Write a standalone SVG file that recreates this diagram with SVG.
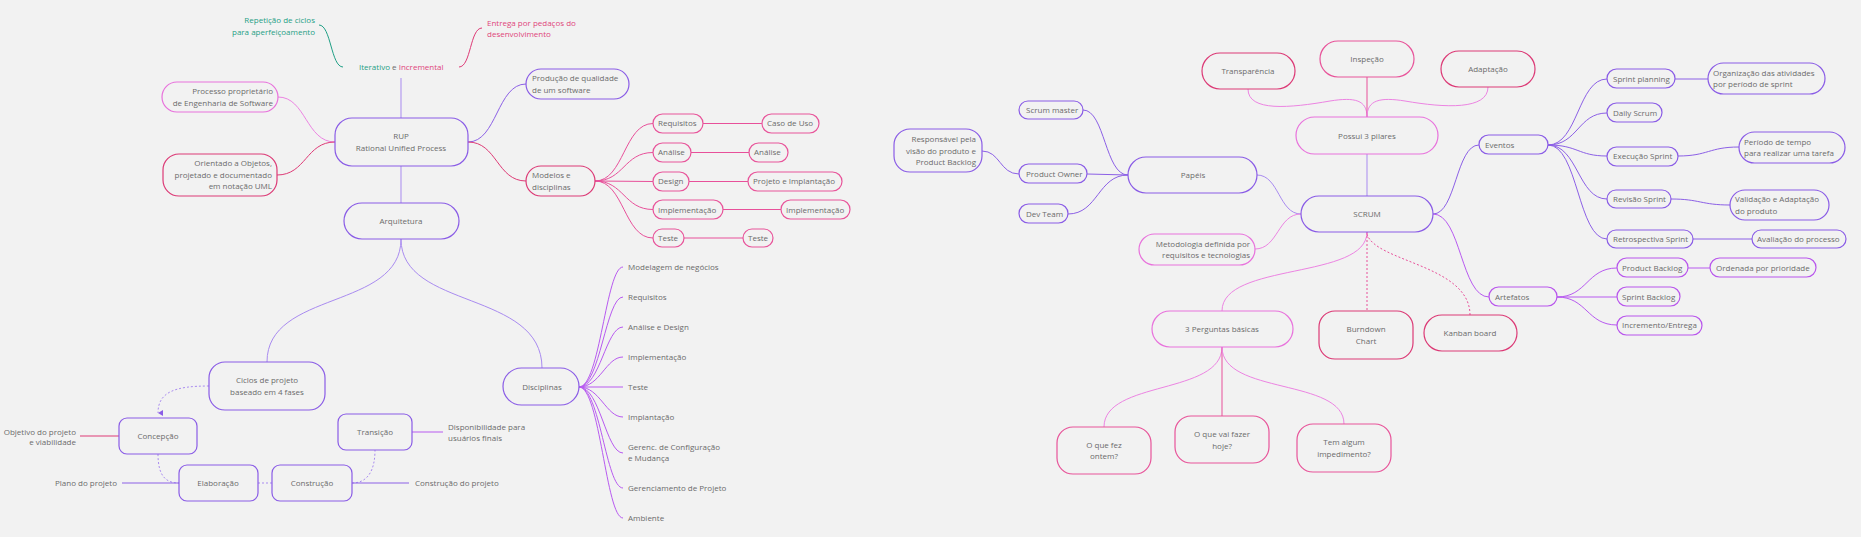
<svg xmlns="http://www.w3.org/2000/svg" width="1861" height="537" viewBox="0 0 1861 537">
<defs>
<style>
.t{font-family:"Open Sans","Liberation Sans",sans-serif;font-size:8px;fill:#6b6b6b}
.m{text-anchor:middle}
.e{text-anchor:end}
rect{fill:#f2f2f2;stroke-width:1.2}
.P{stroke:#8a5ce6}
.V{stroke:#b855ec}
.M{stroke:#e872dc}
.K{stroke:#e8549a}
.R{stroke:#dc3a76}
#connectors path{fill:none;stroke-width:1}
.cP{stroke:#8c60e6}
.cL{stroke:#a98bf0}
.cV{stroke:#b85af0}
.cM{stroke:#ec84e2}
.cK{stroke:#e8509a}
.cR{stroke:#de3a76}
.cG{stroke:#1f9f85}
.dot{stroke-dasharray:2 2}
</style>
<marker id="arr" viewBox="0 0 6 6" refX="3" refY="5" markerWidth="6" markerHeight="6" orient="auto-start-reverse" markerUnits="userSpaceOnUse">
<path d="M0,0 L6,0 L3,5 z" fill="#8a5ce6"/>
</marker>
</defs>
<rect x="0" y="0" width="1861" height="537" style="fill:#f2f2f2;stroke:none"/>

<g id="connectors">
<path class="cG" d="M319 25 C331 25,331 67,343 67"/>
<path class="cR" d="M459 67 C471 67,470 28,482 28"/>
<path class="cL" d="M401 78 L401 118"/>
<path class="cM" d="M335 142 C306 142,306 97,278 97"/>
<path class="cR" d="M335 142 C306 142,306 175,277 175"/>
<path class="cP" d="M468 142 C497 142,497 84,526 84"/>
<path class="cR" d="M468 142 C497 142,497 181,526 181"/>
<path class="cK" d="M595 181 C624 181,624 123.5,653 123.5"/>
<path class="cK" d="M595 181 C624 181,624 152.5,653 152.5"/>
<path class="cK" d="M595 181 L653 181.5"/>
<path class="cK" d="M595 181 C624 181,624 209.5,653 209.5"/>
<path class="cK" d="M595 181 C624 181,624 238,653 238"/>
<path class="cK" d="M703 123.5 L762 123.5"/>
<path class="cK" d="M691 152.5 L749 152.5"/>
<path class="cK" d="M689 181.5 L748 181.5"/>
<path class="cK" d="M723 209.5 L781 209.5"/>
<path class="cK" d="M684 238 L743 238"/>
<path class="cL" d="M401 166 L401 203"/>
<path class="cL" d="M401 239 C401 310,267 290,267 362"/>
<path class="cL" d="M401 239 C401 310,542 290,542 368"/>
<path class="cL dot" d="M209 386 C175 386,158 392,158 413" marker-end="url(#arr)"/>
<path class="cL dot" d="M158 454 C158 475,165 483,179 483"/>
<path class="cL dot" d="M258 483 L272 483"/>
<path class="cL dot" d="M352 483 C368 483,375 470,375 450"/>
<path class="cR" d="M80 436 L119 436"/>
<path class="cP" d="M122 483 L179 483"/>
<path class="cP" d="M352 483 L409 483"/>
<path class="cV" d="M412 432 L443 432"/>
<path class="cV" d="M579 387 C600 387,606 267,623 267"/>
<path class="cV" d="M579 387 C600 387,606 297,623 297"/>
<path class="cV" d="M579 387 C600 387,606 327,623 327"/>
<path class="cV" d="M579 387 C600 387,606 357,623 357"/>
<path class="cV" d="M579 387 L623 387"/>
<path class="cV" d="M579 387 C600 387,606 417,623 417"/>
<path class="cV" d="M579 387 C600 387,606 453,623 453"/>
<path class="cV" d="M579 387 C600 387,606 488,623 488"/>
<path class="cV" d="M579 387 C600 387,606 518,623 518"/>

<path class="cM" d="M1248 89 C1248 112,1290 108,1330 101 C1355 97,1367 100,1367 117"/>
<path class="cK" d="M1367 77 L1367 117"/>
<path class="cM" d="M1488 87 C1488 110,1445 108,1405 101 C1380 97,1367 100,1367 117"/>
<path class="cL" d="M1367 154 L1367 196"/>
<path class="cL" d="M1301 214 C1279 214,1279 175,1257 175"/>
<path class="cM" d="M1301 214 C1278 214,1278 249,1255 249"/>
<path class="cP" d="M1128 175 C1105 175,1105 110,1083 110"/>
<path class="cP" d="M1128 175 L1087 174"/>
<path class="cP" d="M1128 175 C1098 175,1098 214,1068 214"/>
<path class="cP" d="M1019 174 C1000 174,1000 151,982 151"/>
<path class="cP" d="M1433 214 C1456 214,1456 145,1479 145"/>
<path class="cV" d="M1433 214 C1461 214,1461 297,1489 297"/>
<path class="cP" d="M1548 145 C1578 145,1578 79,1607 79"/>
<path class="cP" d="M1548 145 C1578 145,1578 113,1607 113"/>
<path class="cP" d="M1548 145 C1578 145,1578 156,1607 156"/>
<path class="cP" d="M1548 145 C1578 145,1578 199,1607 199"/>
<path class="cP" d="M1548 145 C1578 145,1578 239,1607 239"/>
<path class="cP" d="M1675 79 L1708 79"/>
<path class="cP" d="M1678 156 C1708 156,1709 147,1739 147"/>
<path class="cP" d="M1671 199 C1700 199,1701 205,1730 205"/>
<path class="cP" d="M1693 239 L1752 239"/>
<path class="cV" d="M1557 297 C1587 297,1587 268,1617 268"/>
<path class="cV" d="M1557 297 L1617 297"/>
<path class="cV" d="M1557 297 C1587 297,1587 325,1617 325"/>
<path class="cV" d="M1688 268 L1710 268"/>
<path class="cM" d="M1367 232 C1367 280,1222 262,1222 311"/>
<path class="cK dot" d="M1367 232 L1367 311"/>
<path class="cK dot" d="M1367 234 C1375 262,1470 265,1470 315"/>
<path class="cM" d="M1222 347 C1222 395,1104 380,1104 427"/>
<path class="cK" d="M1222 347 L1222 416"/>
<path class="cM" d="M1222 347 C1222 395,1344 378,1344 424"/>
</g>

<g id="iterativo"><text class="t" x="359" y="70"><tspan style="fill:#1f9f85">Iterativo</tspan> e <tspan style="fill:#e0457b">Incremental</tspan></text></g>
<g id="repeticao"><text class="t e" x="315" y="23" style="fill:#1f9f85">Repetição de ciclos</text><text class="t e" x="315" y="35" style="fill:#1f9f85">para aperfeiçoamento</text></g>
<g id="entrega"><text class="t" x="487" y="26" style="fill:#e0457b">Entrega por pedaços do</text><text class="t" x="487" y="37" style="fill:#e0457b">desenvolvimento</text></g>

<g id="processo"><rect class="M" x="162" y="82" width="116" height="30" rx="15"/><text class="t e" x="273" y="94">Processo proprietário</text><text class="t e" x="273" y="106">de Engenharia de Software</text></g>
<g id="orientado"><rect class="R" x="163" y="154" width="114" height="42" rx="16"/><text class="t e" x="272" y="166">Orientado a Objetos,</text><text class="t e" x="272" y="178">projetado e documentado</text><text class="t e" x="272" y="189">em notação UML</text></g>
<g id="rup"><rect class="P" x="335" y="118" width="133" height="48" rx="17"/><text class="t m" x="401" y="139">RUP</text><text class="t m" x="401" y="151">Rational Unified Process</text></g>
<g id="arquitetura"><rect class="P" x="344" y="203" width="115" height="36" rx="18"/><text class="t m" x="401" y="224">Arquitetura</text></g>
<g id="producao"><rect class="P" x="526" y="69" width="103" height="30" rx="15"/><text class="t" x="532" y="81">Produção de qualidade</text><text class="t" x="532" y="93">de um software</text></g>
<g id="modelos"><rect class="R" x="526" y="166" width="69" height="30" rx="15"/><text class="t" x="532" y="178">Modelos e</text><text class="t" x="532" y="190">disciplinas</text></g>
<g id="m-requisitos"><rect class="K" x="653" y="114" width="50" height="19" rx="9.5"/><text class="t" x="658" y="126">Requisitos</text></g>
<g id="m-casouso"><rect class="K" x="762" y="114" width="57" height="19" rx="9.5"/><text class="t" x="767" y="126">Caso de Uso</text></g>
<g id="m-analise"><rect class="K" x="653" y="143" width="38" height="19" rx="9.5"/><text class="t" x="658" y="155">Análise</text></g>
<g id="m-analise2"><rect class="K" x="749" y="143" width="39" height="19" rx="9.5"/><text class="t" x="754" y="155">Análise</text></g>
<g id="m-design"><rect class="K" x="653" y="172" width="36" height="19" rx="9.5"/><text class="t" x="658" y="184">Design</text></g>
<g id="m-projeto"><rect class="K" x="748" y="172" width="94" height="19" rx="9.5"/><text class="t" x="753" y="184">Projeto e Implantação</text></g>
<g id="m-impl"><rect class="K" x="653" y="200" width="70" height="19" rx="9.5"/><text class="t" x="658" y="213">Implementação</text></g>
<g id="m-impl2"><rect class="K" x="781" y="200" width="69" height="19" rx="9.5"/><text class="t" x="786" y="213">Implementação</text></g>
<g id="m-teste"><rect class="K" x="653" y="229" width="31" height="18" rx="9"/><text class="t" x="658" y="241">Teste</text></g>
<g id="m-teste2"><rect class="K" x="743" y="229" width="30" height="18" rx="9"/><text class="t" x="748" y="241">Teste</text></g>

<g id="ciclos"><rect class="P" x="209" y="362" width="116" height="48" rx="16"/><text class="t m" x="267" y="383">Ciclos de projeto</text><text class="t m" x="267" y="395">baseado em 4 fases</text></g>
<g id="concepcao"><rect class="P" x="119" y="418" width="78" height="36" rx="8"/><text class="t m" x="158" y="439">Concepção</text></g>
<g id="elaboracao"><rect class="P" x="179" y="465" width="79" height="36" rx="8"/><text class="t m" x="218" y="486">Elaboração</text></g>
<g id="construcao"><rect class="P" x="272" y="465" width="80" height="36" rx="8"/><text class="t m" x="312" y="486">Construção</text></g>
<g id="transicao"><rect class="P" x="338" y="414" width="74" height="36" rx="8"/><text class="t m" x="375" y="435">Transição</text></g>
<g id="objetivo"><text class="t e" x="76" y="435">Objetivo do projeto</text><text class="t e" x="76" y="445">e viabilidade</text></g>
<g id="plano"><text class="t e" x="117" y="486">Plano do projeto</text></g>
<g id="construcao-proj"><text class="t" x="415" y="486">Construção do projeto</text></g>
<g id="disponibilidade"><text class="t" x="448" y="430">Disponibilidade para</text><text class="t" x="448" y="441">usuários finais</text></g>
<g id="disciplinas"><rect class="P" x="503" y="368" width="76" height="37" rx="18.5"/><text class="t m" x="542" y="390">Disciplinas</text></g>
<g id="d-modelagem"><text class="t" x="628" y="270">Modelagem de negócios</text></g>
<g id="d-requisitos"><text class="t" x="628" y="300">Requisitos</text></g>
<g id="d-analise"><text class="t" x="628" y="330">Análise e Design</text></g>
<g id="d-impl"><text class="t" x="628" y="360">Implementação</text></g>
<g id="d-teste"><text class="t" x="628" y="390">Teste</text></g>
<g id="d-implantacao"><text class="t" x="628" y="420">Implantação</text></g>
<g id="d-gerenc"><text class="t" x="628" y="450">Gerenc. de Configuração</text><text class="t" x="628" y="461">e Mudança</text></g>
<g id="d-gerenciamento"><text class="t" x="628" y="491">Gerenciamento de Projeto</text></g>
<g id="d-ambiente"><text class="t" x="628" y="521">Ambiente</text></g>

<g id="transparencia"><rect class="R" x="1202" y="53" width="93" height="36" rx="18"/><text class="t m" x="1248" y="74">Transparência</text></g>
<g id="inspecao"><rect class="K" x="1320" y="41" width="94" height="36" rx="18"/><text class="t m" x="1367" y="62">Inspeção</text></g>
<g id="adaptacao"><rect class="R" x="1441" y="51" width="94" height="36" rx="18"/><text class="t m" x="1488" y="72">Adaptação</text></g>
<g id="possui"><rect class="M" x="1296" y="117" width="142" height="37" rx="18.5"/><text class="t m" x="1367" y="139">Possui 3 pilares</text></g>
<g id="scrum"><rect class="P" x="1301" y="196" width="132" height="36" rx="18"/><text class="t m" x="1367" y="217">SCRUM</text></g>
<g id="papeis"><rect class="P" x="1128" y="157" width="129" height="36" rx="18"/><text class="t m" x="1193" y="178">Papéis</text></g>
<g id="scrum-master"><rect class="P" x="1019" y="101" width="64" height="18" rx="9"/><text class="t" x="1026" y="113">Scrum master</text></g>
<g id="product-owner"><rect class="P" x="1019" y="164" width="68" height="19" rx="9.5"/><text class="t" x="1026" y="177">Product Owner</text></g>
<g id="dev-team"><rect class="P" x="1019" y="204" width="49" height="19" rx="9.5"/><text class="t" x="1026" y="217">Dev Team</text></g>
<g id="responsavel"><rect class="P" x="894" y="129" width="88" height="43" rx="16"/><text class="t e" x="976" y="142">Responsável pela</text><text class="t e" x="976" y="154">visão do produto e</text><text class="t e" x="976" y="165">Product Backlog</text></g>
<g id="metodologia"><rect class="M" x="1139" y="234" width="116" height="31" rx="15.5"/><text class="t e" x="1250" y="247">Metodologia definida por</text><text class="t e" x="1250" y="258">requisitos e tecnologias</text></g>
<g id="eventos"><rect class="P" x="1479" y="135" width="69" height="19" rx="9.5"/><text class="t" x="1485" y="148">Eventos</text></g>
<g id="sprint-planning"><rect class="P" x="1607" y="69" width="68" height="19" rx="9.5"/><text class="t" x="1613" y="82">Sprint planning</text></g>
<g id="organizacao"><rect class="P" x="1708" y="63" width="117" height="31" rx="15.5"/><text class="t" x="1713" y="76">Organização das atividades</text><text class="t" x="1713" y="87">por período de sprint</text></g>
<g id="daily"><rect class="P" x="1607" y="103" width="55" height="19" rx="9.5"/><text class="t" x="1613" y="116">Daily Scrum</text></g>
<g id="execucao"><rect class="P" x="1607" y="147" width="71" height="19" rx="9.5"/><text class="t" x="1613" y="159">Execução Sprint</text></g>
<g id="periodo"><rect class="P" x="1739" y="132" width="106" height="31" rx="15.5"/><text class="t" x="1744" y="145">Período de tempo</text><text class="t" x="1744" y="156">para realizar uma tarefa</text></g>
<g id="revisao"><rect class="P" x="1607" y="190" width="64" height="18" rx="9"/><text class="t" x="1613" y="202">Revisão Sprint</text></g>
<g id="validacao"><rect class="P" x="1730" y="190" width="99" height="30" rx="15"/><text class="t" x="1735" y="202">Validação e Adaptação</text><text class="t" x="1735" y="214">do produto</text></g>
<g id="retrospectiva"><rect class="P" x="1607" y="230" width="86" height="18" rx="9"/><text class="t" x="1613" y="242">Retrospectiva Sprint</text></g>
<g id="avaliacao"><rect class="P" x="1752" y="230" width="94" height="18" rx="9"/><text class="t" x="1757" y="242">Avaliação do processo</text></g>
<g id="artefatos"><rect class="V" x="1489" y="287" width="68" height="19" rx="9.5"/><text class="t" x="1495" y="300">Artefatos</text></g>
<g id="product-backlog"><rect class="V" x="1617" y="258" width="71" height="19" rx="9.5"/><text class="t" x="1622" y="271">Product Backlog</text></g>
<g id="ordenada"><rect class="V" x="1710" y="258" width="106" height="19" rx="9.5"/><text class="t" x="1716" y="271">Ordenada por prioridade</text></g>
<g id="sprint-backlog"><rect class="V" x="1617" y="287" width="63" height="19" rx="9.5"/><text class="t" x="1622" y="300">Sprint Backlog</text></g>
<g id="incremento"><rect class="V" x="1617" y="316" width="85" height="19" rx="9.5"/><text class="t" x="1622" y="328">Incremento/Entrega</text></g>
<g id="kanban"><rect class="R" x="1424" y="315" width="93" height="36" rx="18"/><text class="t m" x="1470" y="336">Kanban board</text></g>
<g id="burndown"><rect class="R" x="1319" y="311" width="94" height="48" rx="16"/><text class="t m" x="1366" y="332">Burndown</text><text class="t m" x="1366" y="344">Chart</text></g>
<g id="perguntas"><rect class="M" x="1152" y="311" width="141" height="36" rx="18"/><text class="t m" x="1222" y="332">3 Perguntas básicas</text></g>
<g id="ontem"><rect class="K" x="1057" y="427" width="94" height="47" rx="16"/><text class="t m" x="1104" y="448">O que fez</text><text class="t m" x="1104" y="459">ontem?</text></g>
<g id="hoje"><rect class="K" x="1175" y="416" width="94" height="47" rx="16"/><text class="t m" x="1222" y="437">O que vai fazer</text><text class="t m" x="1222" y="449">hoje?</text></g>
<g id="impedimento"><rect class="K" x="1297" y="424" width="94" height="48" rx="16"/><text class="t m" x="1344" y="445">Tem algum</text><text class="t m" x="1344" y="457">impedimento?</text></g>
</svg>
